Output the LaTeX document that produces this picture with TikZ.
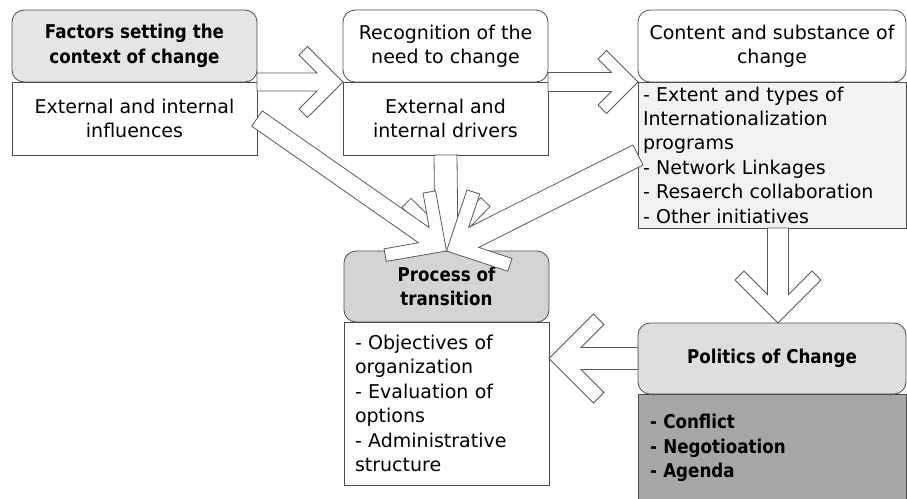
\documentclass[tikz,border=0pt]{standalone}
\usepackage{fontspec}
\setmainfont{DejaVu Sans}[BoldFeatures={FakeStretch=0.88}]
\usetikzlibrary{calc,positioning}

\tikzset{
  head/.style={draw=black!70, line width=0.4pt, rounded corners=6pt, align=center,
    inner sep=2pt, outer sep=0pt, minimum height=36pt},
  body/.style={draw=black!70, line width=0.4pt, outer sep=0pt, inner ysep=2pt},
  boldtext/.style={font=\fontsize{9.5}{12.2}\selectfont\bfseries},
  % open block arrow with swept back barbs: shaft half width, notch, barb
  fatarrow/.style n args={3}{draw=black!65, fill=white, line width=0.4pt,
    to path={let \p1=(\tikztostart), \p2=(\tikztotarget),
      \n1={atan2(\y2-\y1,\x2-\x1)}, \n2={veclen(\x2-\x1,\y2-\y1)} in
      ($(\p1)+({\n1+90}:#1)$)
      -- ($(\p1)+(\n1:{\n2-#2-#1})+({\n1+90}:#1)$)
      -- ($(\p1)+(\n1:{\n2-#2-#3})+({\n1+90}:#3)$)
      -- ($(\p1)+(\n1:{\n2-#3-0.5*#2})+({\n1+90}:{#3+0.5*#2})$)
      -- (\p2)
      -- ($(\p1)+(\n1:{\n2-#3-0.5*#2})+({\n1-90}:{#3+0.5*#2})$)
      -- ($(\p1)+(\n1:{\n2-#2-#3})+({\n1-90}:#3)$)
      -- ($(\p1)+(\n1:{\n2-#2-#1})+({\n1-90}:#1)$)
      -- ($(\p1)+({\n1-90}:#1)$)
      -- cycle}}
}

\begin{document}
\begin{tikzpicture}[x=0.5pt, y=-0.5pt, font=\fontsize{9.5}{12.2}\selectfont]
    \useasboundingbox (0,0) rectangle (907,499);

    % the boxes of the top row
    \node[head, boldtext, fill=black!10, minimum width=122.5pt] (factors) at (134.5,46) {Factors setting the\\context of change};
    \node[body, align=center, minimum width=122.5pt, minimum height=36.5pt, below=0pt of factors] (influences) {External and internal\\influences};
    %
    \node[head, minimum width=102.5pt] (recognition) at (445.5,46) {Recognition of the\\need to change};
    \node[body, align=center, minimum width=102.5pt, minimum height=36.5pt, below=0pt of recognition] (drivers) {External and\\internal drivers};
    %
    \node[head, minimum width=134pt] (content) at (772,46) {Content and substance of\\change};
    \node[body, fill=black!5, align=left, inner xsep=2.5pt, text width=129pt, minimum height=73pt, below=0pt of content] (programs)
        {- Extent and types of\\Internationalization\\programs\\- Network Linkages\\- Resaerch collaboration\\- Other initiatives};

    % the boxes of the bottom row
    \node[head, boldtext, fill=black!17, minimum width=102.5pt, minimum height=35.5pt] (process) at (446.5,286.5) {Process of\\transition};
    \node[body, align=left, inner xsep=5.5pt, text width=91.5pt, minimum height=81.5pt, below=0pt of process] (steps)
        {- Objectives of\\organization\\- Evaluation of\\options\\- Administrative\\structure};
    %
    \node[head, boldtext, fill=black!13, minimum width=134pt, minimum height=35.5pt] (politics) at (772,358.5) {Politics of Change};
    \node[body, boldtext, fill=black!35, align=left, inner xsep=6pt, text width=122pt, minimum height=54pt, below=0pt of politics] (agenda)
        {- Conflict\\- Negotioation\\- Agenda};

    % draw the arrows
    \draw[fatarrow={4.5pt}{8.5pt}{13.5pt}] (factors.south east) to (recognition.south west);
    \draw[fatarrow={4.75pt}{8.5pt}{11.5pt}] (recognition.south east) to (content.south west);
    \draw[fatarrow={5.25pt}{9pt}{17pt}] ([xshift=3pt]programs.south) to ([xshift=3pt]politics.north);
    \draw[fatarrow={5.5pt}{10.5pt}{17pt}] (politics.west) to (politics.west -| steps.east);
    % the three arrows meeting on the process
    \draw[fatarrow={5.75pt}{9pt}{17.5pt}] (drivers.south) to (process.north);
    \draw[fatarrow={4.65pt}{9pt}{17pt}] (influences.east) to (process.north);
    \draw[fatarrow={5.6pt}{9.5pt}{18pt}] (programs.west) to (process.north);
\end{tikzpicture}
\end{document}
